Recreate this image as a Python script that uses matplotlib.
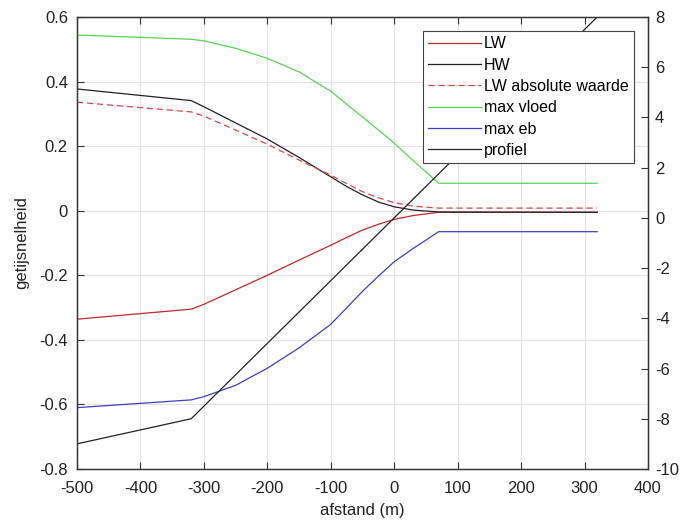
import numpy as np
import matplotlib
matplotlib.use('Agg')
import matplotlib.pyplot as plt

plt.rcParams['font.family'] = ['Liberation Sans', 'DejaVu Sans']
plt.rcParams['axes.unicode_minus'] = False

# afstand (m)
x = [-500, -320, -300, -250, -200, -150, -100, -75, -50, -25, 0, 30, 70, 320]

# getijsnelheid per scenario
lw = [-0.336, -0.305, -0.290, -0.245, -0.200, -0.153, -0.107, -0.083, -0.060,
      -0.042, -0.027, -0.015, -0.005, -0.005]
hw = [0.377, 0.341, 0.322, 0.272, 0.222, 0.165, 0.105, 0.075, 0.049,
      0.027, 0.012, 0.002, -0.004, -0.005]
lw_abs = [0.336, 0.306, 0.293, 0.250, 0.206, 0.157, 0.110, 0.084, 0.059,
          0.040, 0.025, 0.014, 0.008, 0.008]
max_vloed = [0.544, 0.531, 0.526, 0.503, 0.472, 0.430, 0.370, 0.330, 0.290,
             0.250, 0.209, 0.155, 0.085, 0.085]
max_eb = [-0.610, -0.586, -0.576, -0.541, -0.488, -0.425, -0.352, -0.301, -0.250,
          -0.203, -0.158, -0.117, -0.065, -0.065]

# bodemprofiel (rechter as)
x_profiel = [-500, -320, 320]
profiel = [-9, -8, 8]

fig = plt.figure(figsize=(6.81, 5.24), dpi=100)
ax = fig.add_axes([0.113, 0.105, 0.8385, 0.8626])
ax2 = ax.twinx()

lw_ = 0.9
h1, = ax.plot(x, lw, color='#c0282d', lw=lw_, label='LW')
h2, = ax.plot(x, hw, color='#222222', lw=lw_, label='HW')
h3, = ax.plot(x, lw_abs, color='#d4474d', lw=lw_, ls=(0, (5, 3)), label='LW absolute waarde')
h4, = ax.plot(x, max_vloed, color='#55d655', lw=lw_, label='max vloed')
h5, = ax.plot(x, max_eb, color='#4040c0', lw=lw_, label='max eb')
h6, = ax2.plot(x_profiel, profiel, color='#222222', lw=lw_, label='profiel')

ax.set_xlim(-500, 400)
ax.set_ylim(-0.8, 0.6)
ax2.set_ylim(-10, 8)
ax.set_xticks(np.arange(-500, 401, 100))
ax.set_yticks(np.arange(-0.8, 0.61, 0.2))
ax.set_yticklabels(['-0.8', '-0.6', '-0.4', '-0.2', '0', '0.2', '0.4', '0.6'])
ax2.set_yticks(np.arange(-10, 9, 2))

ax.grid(True, color='#e3e3e3', lw=0.8)
ax.set_axisbelow(True)

for a in (ax, ax2):
    for s in a.spines.values():
        s.set_color('#333333')
        s.set_linewidth(0.9)
ax.tick_params(axis='both', direction='in', labelsize=12, colors='#333333',
               labelcolor='#222222', length=5, top=True)
ax.tick_params(axis='x', pad=9)
ax.tick_params(axis='y', right=False, pad=6.5)
ax2.tick_params(axis='y', direction='in', labelsize=12, colors='#333333',
                labelcolor='#222222', length=5, pad=5)

ax.set_xlabel('afstand (m)', fontsize=12, color='#222222', labelpad=5)
ax.set_ylabel('getijsnelheid', fontsize=12, color='#222222', labelpad=7)

leg = ax2.legend(handles=[h1, h2, h3, h4, h5, h6], loc='upper right',
                 fontsize=11.5, handlelength=3.3, handletextpad=0.2,
                 labelspacing=0.4, borderaxespad=0.9, fancybox=False,
                 framealpha=1, edgecolor='#444444', borderpad=0.3)
leg.get_frame().set_linewidth(0.8)

fig.savefig('out.png', dpi=100)
